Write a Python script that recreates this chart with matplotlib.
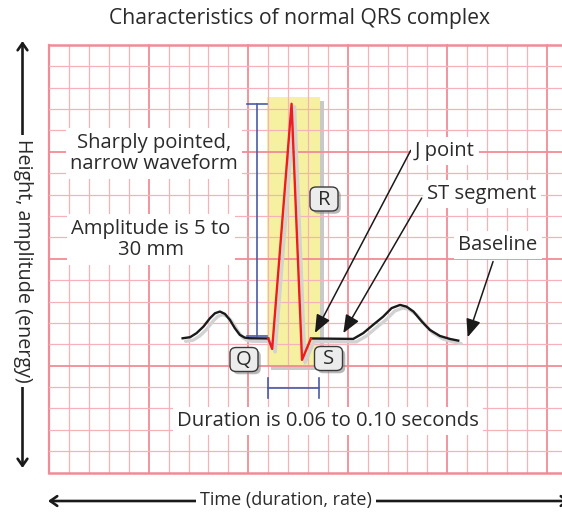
import matplotlib
matplotlib.use("Agg")
import matplotlib.pyplot as plt
import matplotlib.transforms as mtransforms
import matplotlib.patheffects as pe
from matplotlib.patches import Rectangle, FancyBboxPatch

W, H = 562, 513
FONT = "Open Sans"
TEXT_COLOR = "#2b2b2b"
LABEL_SIZE = 14.6

# ECG trace: time in seconds from the left grid edge, amplitude in mm above baseline
p_wave_t = [0.268, 0.283, 0.296, 0.310, 0.323, 0.333, 0.343, 0.353, 0.363,
            0.373, 0.383, 0.393, 0.403, 0.440]
p_wave_mm = [0.03, 0.08, 0.27, 0.58, 0.97, 1.20, 1.28, 1.17, 0.89,
             0.50, 0.19, 0.06, 0.03, 0.02]
qrs_t = [0.440, 0.448, 0.487, 0.508, 0.526]
qrs_mm = [0.02, -0.47, 11.0, -0.98, 0.02]
st_t_wave_t = [0.526, 0.608, 0.611, 0.631, 0.651, 0.671, 0.688, 0.705, 0.718,
               0.732, 0.749, 0.765, 0.785, 0.805, 0.822]
st_t_wave_mm = [0.02, 0.0, 0.0, 0.27, 0.66, 1.04, 1.44, 1.59, 1.51,
                1.28, 0.81, 0.42, 0.14, 0.0, -0.08]

# QRS window and measurement brackets
qrs_window = (0.437, 0.544)       # seconds
qrs_window_mm = (-1.26, 11.32)
amp_bracket_t = 0.4175
amp_bracket_mm = (0.12, 11.0)
dur_bracket_t = (0.440, 0.543)
dur_bracket_mm = -2.30

# grid: small squares of 0.04 s by 1 mm
n_cols = 26
n_rows = 20
y_min, y_max = -6.25, 13.75
x_max = 1.0306

fig = plt.figure(figsize=(W / 100, H / 100), dpi=100)
ax = fig.add_axes([49.3 / W, (H - 472.5) / H, (W - 49.3) / W, 427.5 / H])
ax.set_xlim(0, x_max)
ax.set_ylim(y_min, y_max)
ax.axis("off")

minor_c, major_c = "#f6b2b9", "#f18b95"
for k in range(n_cols):
    major = k % 5 == 0
    ax.axvline(k * 0.04, color=major_c if major else minor_c,
               lw=1.6 if k == 0 else (1.3 if major else 0.9), zorder=2,
               clip_on=False)
for j in range(n_rows + 1):
    major = j % 5 == 0
    edge = j in (0, n_rows)
    ax.axhline(y_min + j, color=major_c if major else minor_c,
               lw=1.8 if edge else (1.3 if major else 0.9), zorder=2,
               clip_on=False)

# yellow QRS window with shadow
shadow = mtransforms.offset_copy(ax.transData, fig=fig, x=4, y=-4, units="dots")
for tr, fc in ((shadow, "#c9c9c9"), (ax.transData, "#f6f1a0")):
    ax.add_patch(Rectangle((qrs_window[0], qrs_window_mm[0]),
                           qrs_window[1] - qrs_window[0],
                           qrs_window_mm[1] - qrs_window_mm[0],
                           facecolor=fc, edgecolor="none", transform=tr,
                           zorder=1))

# trace shadow then trace
sh = mtransforms.offset_copy(ax.transData, fig=fig, x=3, y=-3, units="dots")
for t, v in ((p_wave_t, p_wave_mm), (qrs_t, qrs_mm), (st_t_wave_t, st_t_wave_mm)):
    ax.plot(t, v, color="#d2d2d2", lw=2.4, transform=sh, zorder=4,
            solid_capstyle="round")
ax.plot(p_wave_t, p_wave_mm, color="#1a1a1a", lw=1.7, zorder=5)
ax.plot(st_t_wave_t, st_t_wave_mm, color="#1a1a1a", lw=1.7, zorder=5)
ax.plot(qrs_t, qrs_mm, color="#ee1c1c", lw=1.7, zorder=6)

# brackets
blue = "#4a5ba6"
ax.plot([amp_bracket_t] * 2, amp_bracket_mm, color=blue, lw=1.2, zorder=5)
for yv in amp_bracket_mm:
    ax.plot([amp_bracket_t - 0.0205, amp_bracket_t + 0.0195], [yv, yv],
            color=blue, lw=1.2, zorder=5)
ax.plot(dur_bracket_t, [dur_bracket_mm] * 2, color=blue, lw=1.2, zorder=5)
for tv in dur_bracket_t:
    ax.plot([tv, tv], [dur_bracket_mm + 0.47, dur_bracket_mm - 0.46],
            color=blue, lw=1.2, zorder=5)


def fpx(x, y):
    return x / W, 1 - y / H


white_box = dict(facecolor="white", edgecolor="none", pad=3)


def label(x, y, s, ha="center", size=LABEL_SIZE, box=True):
    fig.text(*fpx(x, y), s, ha=ha, va="center", fontsize=size, family=FONT,
             color=TEXT_COLOR, linespacing=1.1, zorder=10,
             bbox=white_box if box else None)


label(300, 19, "Characteristics of normal QRS complex", size=15.2, box=False)
label(154, 153.5, "Sharply pointed,\nnarrow waveform")
label(151, 239.5, "Amplitude is 5 to\n30 mm")
label(415, 151, "J point", ha="left")
label(427, 194, "ST segment", ha="left")
label(458, 245, "Baseline", ha="left")
label(328, 421, "Duration is 0.06 to 0.10 seconds")


def tag(x, y, s, w=28, h=24):
    # rounded grey tag, sized in pixels, with a soft drop shadow
    box = FancyBboxPatch(fpx(x - w / 2, y + h / 2), w / W, h / H,
                         boxstyle="round,pad=0,rounding_size=0.011",
                         transform=fig.transFigure, facecolor="#ececec",
                         edgecolor="#3a3a3a", lw=1.0, zorder=9)
    box.set_path_effects([pe.SimplePatchShadow(offset=(2, -2),
                                               shadow_rgbFace="#8a8a8a",
                                               alpha=0.6), pe.Normal()])
    fig.add_artist(box)
    fig.text(*fpx(x, y + 1), s, ha="center", va="center", fontsize=LABEL_SIZE,
             family=FONT, color=TEXT_COLOR, zorder=10)


tag(324, 199, "R")
tag(244, 359.5, "Q")
tag(328.5, 358.5, "S")

# pointer arrows
arrow_kw = dict(arrowstyle="-|>,head_length=1.1,head_width=0.45",
                color="#1a1a1a", lw=1.1, shrinkA=0, shrinkB=0)
ax.annotate("", xy=(0.534, 0.28), xytext=(0.7265, 8.82),
            arrowprops=arrow_kw, zorder=7)
ax.annotate("", xy=(0.591, 0.27), xytext=(0.7486, 6.59),
            arrowprops=arrow_kw, zorder=7)
ax.annotate("", xy=(0.841, 0.08), xytext=(0.892, 3.62),
            arrowprops=arrow_kw, zorder=7)

# axis arrows
axis_kw = dict(arrowstyle="<->,head_length=0.5,head_width=0.35",
               color="#1a1a1a", lw=1.9, shrinkA=0, shrinkB=0)
ax.annotate("", xy=(22.5, H - 41), xytext=(22.5, H - 468),
            xycoords="figure pixels", arrowprops=axis_kw, annotation_clip=False)
ax.annotate("", xy=(48, H - 501), xytext=(570, H - 501),
            xycoords="figure pixels", arrowprops=axis_kw, annotation_clip=False)
fig.text(*fpx(22.5, 261), "Height, amplitude (energy)", rotation=-90,
         ha="center", va="center", fontsize=14.2, family=FONT,
         color=TEXT_COLOR, bbox=white_box, zorder=10)
fig.text(*fpx(286, 500), "Time (duration, rate)", ha="center", va="center",
         fontsize=13, family=FONT, color=TEXT_COLOR, bbox=white_box,
         zorder=10)

fig.savefig("out.png", dpi=100)
